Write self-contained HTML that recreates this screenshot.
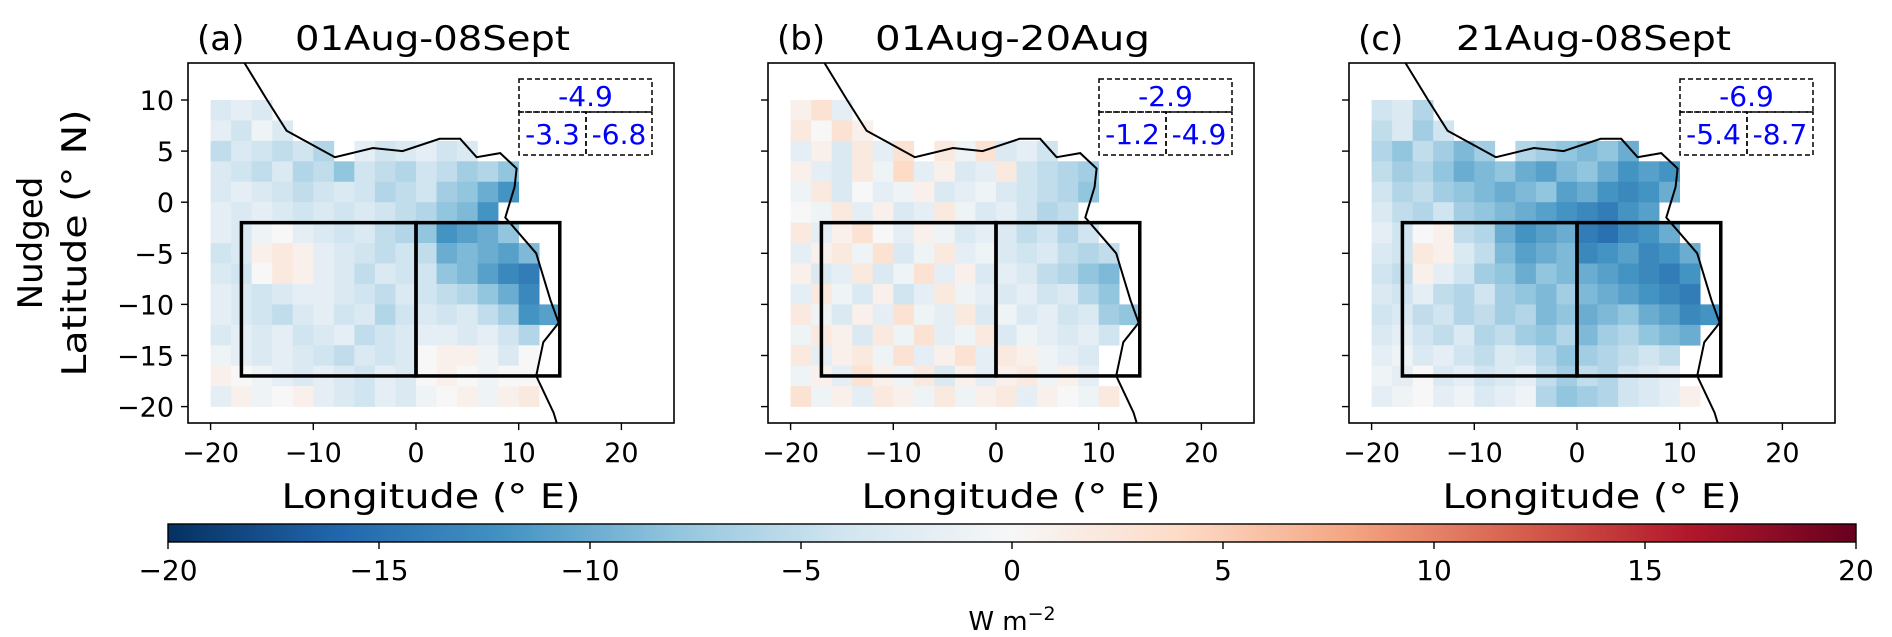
<!DOCTYPE html>
<html><head><meta charset="utf-8">
<style>
html,body{margin:0;padding:0;background:#fff;}
svg{display:block;font-family:"DejaVu Sans","Liberation Sans",sans-serif;}
</style></head>
<body>
<svg id="fig" width="1892" height="637" viewBox="0 0 1892 637" xmlns="http://www.w3.org/2000/svg">
<defs>
<linearGradient id="cbgrad" x1="0" x2="1" y1="0" y2="0">
<stop offset="0" stop-color="#053061"/><stop offset="0.1" stop-color="#2166ac"/><stop offset="0.2" stop-color="#4393c3"/><stop offset="0.3" stop-color="#92c5de"/><stop offset="0.4" stop-color="#d1e5f0"/><stop offset="0.5" stop-color="#f7f7f7"/><stop offset="0.6" stop-color="#fddbc7"/><stop offset="0.7" stop-color="#f4a582"/><stop offset="0.8" stop-color="#d6604d"/><stop offset="0.9" stop-color="#b2182b"/><stop offset="1" stop-color="#67001f"/>
</linearGradient>
</defs>
</svg>
<script>
// ---- data (2-degree cells, lon -20..14, lat 10..-20; rows north to south) ----
const lonCenters = [-19,-17,-15,-13,-11,-9,-7,-5,-3,-1,1,3,5,7,9,11,13];
const latCenters = [9,7,5,3,1,-1,-3,-5,-7,-9,-11,-13,-15,-17,-19];
const panelTitles = ["01Aug-08Sept","01Aug-20Aug","21Aug-08Sept"];
const panelLetters = ["(a)","(b)","(c)"];
const totalMeans = ["-4.9","-2.9","-6.9"];
const westMeans = ["-3.3","-1.2","-5.4"];
const eastMeans = ["-6.8","-4.9","-8.7"];
const xTicks = [-20,-10,0,10,20];
const yTicks = [10,5,0,-5,-10,-15,-20];
const cbTicks = [-20,-15,-10,-5,0,5,10,15,20];
const valuesA = [
[-3,-2,-3,-3,0],
[-2,-4,-1,-3,-2,2],
[-5,-3,-4,-5,-4,-6,-3,-2,-4,-3,-2,-4,-3,-2],
[-3,-4,-5,-3,-6,-5,-8,-4,-5,-6,-4,-5,-7,-6,-8],
[-3,-2,-3,-4,-5,-4,-3,-4,-6,-5,-4,-7,-8,-10,-12],
[-2,-3,-2,-3,-4,-3,-4,-3,-4,-5,-6,-8,-9,-12,-14],
[-2,-3,-1,0,-2,-3,-4,-3,-5,-6,-8,-12,-11,-10,-8],
[-4,-3,1,2,1,-2,-3,-4,-5,-4,-5,-10,-9,-10,-11,-9],
[-3,-4,0,2,1,-2,-3,-5,-3,-4,-4,-8,-9,-11,-13,-14],
[-2,-3,-4,-3,-2,-2,-3,-4,-5,-3,-4,-5,-6,-8,-10,-13,-12],
[-2,-3,-4,-5,-3,-2,-4,-3,-6,-4,-3,-4,-3,-5,-7,-12,-11],
[-3,-2,-3,-2,-4,-3,-2,-5,-4,-3,-2,-2,-3,-2,-4,-6],
[-1,-2,-3,-2,-3,-4,-5,-3,-4,-3,0,1,1,-1,-3,0],
[1,0,-1,-2,-3,-2,-3,-4,-2,-3,0,1,0,-1,0,0],
[-2,1,-1,0,1,-2,-3,-4,-2,-3,-1,0,1,-1,1,2]
];
const valuesB = [
[1,3,-2,2,1],
[2,0,3,1,-1,2],
[-2,1,-3,2,-2,3,4,2,-1,3,-3,-2,-4,-3],
[1,-2,-3,2,-1,4,-2,1,-3,-2,2,-4,-5,-6,-7],
[-1,2,-3,0,-2,-1,1,-3,-2,-1,-3,-4,-5,-6,-8],
[0,-1,2,-2,1,-3,-2,2,-1,-3,-2,-4,-6,-5,-7],
[2,-2,1,3,0,-2,1,-1,-3,-2,-3,-5,-4,-6,-4],
[-2,1,2,-1,3,-3,-1,2,-2,-1,-3,-4,-3,-5,-6,-5],
[1,-3,-2,2,-3,-1,3,-2,1,-3,-2,-3,-5,-6,-8,-9],
[-2,2,-1,-3,1,-4,-2,2,-1,-2,-3,-2,-4,-3,-6,-8,-7],
[2,-1,-3,1,-2,3,-1,-2,2,-3,-1,-3,-2,-4,-3,-7,-8],
[-1,2,1,-3,2,-1,3,-2,-1,2,-3,-1,-2,-3,-2,-4],
[2,-2,1,2,-1,3,-2,1,3,-2,2,1,-1,-2,-3],
[-1,1,-2,3,1,-1,2,-3,1,-2,1,2,-1,1,-2],
[3,-1,1,-2,2,1,-1,2,-1,1,2,-2,1,0,-1,2]
];
const valuesC = [
[-4,-3,-6,-5,-3],
[-5,-3,-7,-4,-6,-2],
[-6,-8,-5,-7,-9,-7,-8,-6,-7,-8,-9,-8,-10,-9],
[-5,-7,-6,-8,-10,-9,-8,-10,-11,-9,-8,-10,-12,-11,-12],
[-4,-6,-5,-7,-8,-9,-10,-9,-8,-11,-10,-12,-13,-12,-10],
[-3,-5,-6,-4,-7,-8,-9,-10,-11,-12,-13,-14,-12,-11,-10],
[-2,-4,0,1,-5,-6,-10,-12,-11,-10,-14,-15,-13,-12,-10],
[-3,-4,2,1,-3,-5,-9,-11,-10,-9,-13,-12,-11,-13,-12,-10],
[-4,-5,1,-2,-4,-7,-8,-10,-8,-9,-10,-11,-12,-13,-14,-12],
[-3,-4,-2,-5,-6,-4,-7,-8,-9,-7,-9,-10,-11,-12,-13,-14,-13],
[-4,-3,-5,-4,-6,-5,-7,-6,-9,-8,-10,-9,-8,-10,-11,-13,-12],
[-3,-2,-4,-5,-3,-6,-5,-7,-8,-6,-9,-7,-6,-8,-9,-10],
[-2,-1,-3,-2,-4,-5,-3,-4,-6,-8,-7,-6,-5,-4,-5],
[-1,-2,0,-3,-2,-4,-3,-2,-5,-7,-5,-6,-4,-3,-2],
[-2,-1,0,-2,-1,-3,-2,-1,-6,-8,-7,-6,-4,-3,-2,1]
];
const panelValues = [valuesA, valuesB, valuesC];
// coastline (lon, lat) north to south
const coastLon = [-16.7,-14.5,-12.6,-7.9,-4.2,-1.3,2.3,4.3,5.9,8.2,9.8,9.6,8.7,11.7,13.1,13.9,12.4,11.7,13.4,13.7];
const coastLat = [13.7,10,7,4.4,5.3,5,6.2,6.2,4.4,4.8,3.3,1.5,-1.5,-5,-9.6,-11.8,-13.7,-17,-20.6,-21.7];

// ---- geometry ----
const NS="http://www.w3.org/2000/svg";
const svg=document.getElementById('fig');
const panelLeft=[188,768,1349];
const axW=486, axTop=63, axBot=423;
const lonMin=-22.2, pxDeg=10.27, latTopRef=10, yRef=100, pyDeg=10.22;
function xScale(p,lon){return panelLeft[p]+(lon-lonMin)*pxDeg;}
function yScale(lat){return yRef+(latTopRef-lat)*pyDeg;}
const stops=[[5,48,97],[33,102,172],[67,147,195],[146,197,222],[209,229,240],[247,247,247],[253,219,199],[244,165,130],[214,96,77],[178,24,43],[103,0,31]];
function cmap(v){let t=(v+20)/40;t=Math.max(0,Math.min(1,t))*10;let i=Math.min(9,Math.floor(t));let f=t-i;let a=stops[i],b=stops[i+1];
return 'rgb('+[0,1,2].map(k=>Math.round(a[k]+(b[k]-a[k])*f)).join(',')+')';}
function mk(tag,attrs,parent){const e=document.createElementNS(NS,tag);for(const k in attrs)e.setAttribute(k,attrs[k]);(parent||svg).appendChild(e);return e;}
function isLand(lon,lat){const px=coastLon.concat([40,40]);const py=coastLat.concat([-22,14]);let inside=false;
for(let i=0,j=px.length-1;i<px.length;j=i++){if(((py[i]>lat)!=(py[j]>lat))&&(lon<(px[j]-px[i])*(lat-py[i])/(py[j]-py[i])+px[i]))inside=!inside;}return inside;}

for(let p=0;p<3;p++){
  const g=mk('g',{});
  
  
  const L=panelLeft[p];
  const vals=panelValues[p];
  for(let r=0;r<latCenters.length;r++){
    for(let c=0;c<lonCenters.length;c++){
      const v=vals[r][c];
      if(v===undefined)continue;
      if(isLand(lonCenters[c],latCenters[r]))continue;
      const x0=xScale(p,lonCenters[c]-1),x1=xScale(p,lonCenters[c]+1);
      const y0=yScale(latCenters[r]+1),y1=yScale(latCenters[r]-1);
      const rc=mk('rect',{x:x0.toFixed(2),y:y0.toFixed(2),width:(x1-x0+0.3).toFixed(2),height:(y1-y0+0.3).toFixed(2),fill:cmap(v)},g);
      
      
    }
  }
  const pts=coastLon.map((lo,i)=>xScale(p,lo).toFixed(1)+','+Math.min(axBot,Math.max(axTop,yScale(coastLat[i]))).toFixed(1)).join(' ');
  const cl=mk('polyline',{points:pts,fill:'none',stroke:'#000','stroke-width':2},g);
  
  
  const bw=mk('rect',{x:xScale(p,-17),y:yScale(-2),width:xScale(p,0)-xScale(p,-17),height:yScale(-17)-yScale(-2),fill:'none',stroke:'#000','stroke-width':3.5},g);
  
  
  const be=mk('rect',{x:xScale(p,0),y:yScale(-2),width:xScale(p,14)-xScale(p,0),height:yScale(-17)-yScale(-2),fill:'none',stroke:'#000','stroke-width':3.5},g);
  
  
  const fr=mk('rect',{x:L,y:axTop,width:axW,height:axBot-axTop,fill:'none',stroke:'#000','stroke-width':1.6},g);
  
  
  xTicks.forEach(t=>{const x=xScale(p,t);
    mk('line',{x1:x,x2:x,y1:axBot,y2:axBot+7,stroke:'#000','stroke-width':1.4},g);
    const tx=mk('text',{x:x,y:462,'font-size':27,'text-anchor':'middle',fill:'#000'},g);
    tx.textContent=(t<0?'\u2212':'')+Math.abs(t);
    
    
  });
  yTicks.forEach(t=>{const y=yScale(t);
    mk('line',{x1:L-7,x2:L,y1:y,y2:y,stroke:'#000','stroke-width':1.4},g);
    if(p===0){const ty=mk('text',{x:L-14,y:y+10,'font-size':27,'text-anchor':'end',fill:'#000'},g);
      ty.textContent=(t<0?'\u2212':'')+Math.abs(t);
      
      }
  });
  const xl=mk('text',{x:L+axW/2,y:508,'font-size':34,'text-anchor':'middle',fill:'#000',textLength:299,lengthAdjust:'spacingAndGlyphs'},g);
  xl.textContent='Longitude (\u00b0 E)';
  
  
  const tl=mk('text',{x:L+9,y:50,'font-size':34,fill:'#000'},g);
  tl.textContent=panelLetters[p];
  
  
  const tt=mk('text',{x:L+107,y:50,'font-size':34,fill:'#000',textLength:275,lengthAdjust:'spacingAndGlyphs'},g);
  tt.textContent=panelTitles[p];
  
  
  const ax0=L+331, ax1=L+464, axm=L+398, ay0=79, aym=112, ay1=155;
  const ds={fill:'none',stroke:'#000','stroke-width':1.5,'stroke-dasharray':'5,3'};
  const at=mk('g',{},g);
  
  
  mk('rect',Object.assign({x:ax0,y:ay0,width:ax1-ax0,height:aym-ay0},ds),at);
  mk('rect',Object.assign({x:ax0,y:aym,width:axm-ax0,height:ay1-aym},ds),at);
  mk('rect',Object.assign({x:axm,y:aym,width:ax1-axm,height:ay1-aym},ds),at);
  const t1=mk('text',{x:(ax0+ax1)/2,y:106,'font-size':28,'text-anchor':'middle',fill:'#0000ff'},at);
  t1.textContent=totalMeans[p];
  
  
  const t2=mk('text',{x:(ax0+axm)/2,y:144,'font-size':28,'text-anchor':'middle',fill:'#0000ff'},at);
  t2.textContent=westMeans[p];
  
  
  const t3=mk('text',{x:(axm+ax1)/2,y:144,'font-size':28,'text-anchor':'middle',fill:'#0000ff'},at);
  t3.textContent=eastMeans[p];
  
  
}
const yl1=mk('text',{x:0,y:0,'font-size':34,'text-anchor':'middle',fill:'#000',transform:'translate(42,243) rotate(-90)'});
yl1.textContent='Nudged';


const yl2=mk('text',{x:0,y:0,'font-size':34,'text-anchor':'middle',fill:'#000',transform:'translate(86,243) rotate(-90)',textLength:267,lengthAdjust:'spacingAndGlyphs'});
yl2.textContent='Latitude (\u00b0 N)';


const cbL=168, cbR=1856, cbT=524, cbB=542;
function cbX(v){return cbL+(v+20)/40*(cbR-cbL);}
const cb=mk('rect',{x:cbL,y:cbT,width:cbR-cbL,height:cbB-cbT,fill:'url(#cbgrad)',stroke:'#000','stroke-width':1.4});


cbTicks.forEach(t=>{const x=cbX(t);
  mk('line',{x1:x,x2:x,y1:cbB,y2:cbB+7,stroke:'#000','stroke-width':1.4});
  const tx=mk('text',{x:x,y:580,'font-size':28,'text-anchor':'middle',fill:'#000'});
  tx.textContent=(t<0?'\u2212':'')+Math.abs(t);
  
  
});
const cbl=mk('text',{x:(cbL+cbR)/2,y:630,'font-size':26,'text-anchor':'middle',fill:'#000'});
cbl.innerHTML='W m<tspan dy="-10" font-size="19">\u22122</tspan>';


</script>
</body></html>
